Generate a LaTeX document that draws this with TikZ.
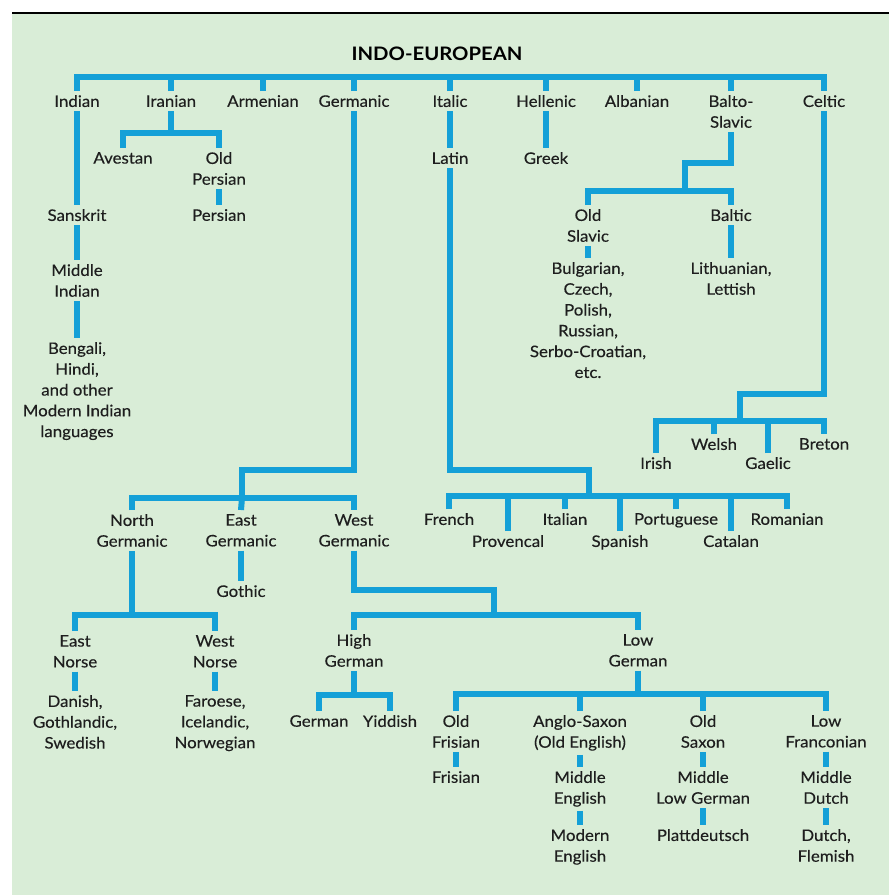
\documentclass[tikz,border=0pt]{standalone}
\usepackage{fontspec}
\setmainfont{Lato}[FakeStretch=1.06, FakeBold=0.25]
\newfontfamily\headfont{Lato}[FakeStretch=1.09]
\usetikzlibrary{calc}
\definecolor{treeblue}{RGB}{20,160,215}
\definecolor{panelgreen}{RGB}{217,237,215}
\definecolor{inkgray}{RGB}{30,30,30}
\newcommand{\langsize}{\fontsize{15.9}{20.8}\selectfont}
\newcommand{\headsize}{\fontsize{18.6}{22}\selectfont}
\tikzset{
  lang/.style = {font=\langsize, text=inkgray, align=center, inner sep=4pt, anchor=north},
  head/.style = {font=\headfont\headsize\bfseries, inner sep=0pt, anchor=north},
  wire/.style = {line width=6pt, draw=treeblue},
}

\begin{document}
\begin{tikzpicture}[x=1pt,y=-1pt]
  \useasboundingbox (0,0) rectangle (894,895);
  \fill[white] (0,0) rectangle (894,895);
  \fill[panelgreen] (12,14) rectangle (889,895);
  \draw[line width=2pt] (12,12.5) -- (889,12.5);

  \node[head] (ie) at (437,46.7) {INDO-EUROPEAN};

  % first branches
  \node[lang] (indian)   at (77,91)  {Indian};
  \node[lang] (iranian)  at (171,91) {Iranian};
  \node[lang] (armenian) at (263,91) {Armenian};
  \node[lang] (germanic) at (354,91) {Germanic};
  \node[lang] (italic)   at (450,91) {Italic};
  \node[lang] (hellenic) at (546,91) {Hellenic};
  \node[lang] (albanian) at (637,91) {Albanian};
  \node[lang] (balto)    at (731,91) {Balto-\\Slavic};
  \node[lang] (celtic)   at (824,91) {Celtic};

  \coordinate (iebar) at (437,77);
  \draw[wire] (indian.north) -- (indian.north |- iebar) -- (celtic.north |- iebar) -- (celtic.north);
  \foreach \n in {iranian,armenian,germanic,italic,hellenic,albanian,balto}
    \draw[wire] (\n.north) -- (\n.north |- iebar);

  % Indian
  \node[lang] (sanskrit)     at (77,205) {Sanskrit};
  \node[lang] (middleindian) at (77,260) {Middle\\Indian};
  \node[lang] (modernindian) at (77,338) {Bengali,\\Hindi,\\and other\\Modern Indian\\languages};
  \draw[wire] (indian.south) -- (sanskrit.north);
  \draw[wire] (sanskrit.south) -- (middleindian.north);
  \draw[wire] (middleindian.south) -- (modernindian.north);

  % Iranian
  \node[lang] (avestan)    at (123,148) {Avestan};
  \node[lang] (oldpersian) at (219,148) {Old\\Persian};
  \node[lang] (persian)    at (219,205) {Persian};
  \coordinate (iranbar) at (171,133);
  \draw[wire] (iranian.south) -- (iranbar);
  \draw[wire] (avestan.north) -- (avestan.north |- iranbar) -- (oldpersian.north |- iranbar) -- (oldpersian.north);
  \draw[wire] (oldpersian.south) -- (persian.north);

  % Italic
  \node[lang] (latin)      at (450,148) {Latin};
  \node[lang] (french)     at (449,509) {French};
  \node[lang] (provencal)  at (508,531) {Provencal};
  \node[lang] (italian)    at (565,509) {Italian};
  \node[lang] (spanish)    at (620,531) {Spanish};
  \node[lang] (portuguese) at (676,509) {Portuguese};
  \node[lang] (catalan)    at (731,531) {Catalan};
  \node[lang] (romanian)   at (787,509) {Romanian};
  \coordinate (itbend) at (589,470);
  \coordinate (rmbar) at (589,496);
  \draw[wire] (italic.south) -- (latin.north);
  \draw[wire] (latin.south) |- (itbend) -- (rmbar);
  \draw[wire] (french.north) -- (french.north |- rmbar) -- (romanian.north |- rmbar) -- (romanian.north);
  \foreach \n in {provencal,italian,spanish,portuguese,catalan}
    \draw[wire] (\n.north) -- (\n.north |- rmbar);

  % Hellenic
  \node[lang] (greek) at (546,148) {Greek};
  \draw[wire] (hellenic.south) -- (greek.north);

  % Balto-Slavic
  \node[lang] (oldslavic)   at (588,205) {Old\\Slavic};
  \node[lang] (baltic)      at (731,205) {Baltic};
  \node[lang] (slaviclangs) at (588,258) {Bulgarian,\\Czech,\\Polish,\\Russian,\\Serbo-Croatian,\\etc.};
  \node[lang] (lithlett)    at (731,258) {Lithuanian,\\Lettish};
  \coordinate (bsbend) at (685,163);
  \coordinate (bsbar) at (685,191);
  \draw[wire] (balto.south) |- (bsbend) -- (bsbar);
  \draw[wire] (oldslavic.north) -- (oldslavic.north |- bsbar) -- (baltic.north |- bsbar) -- (baltic.north);
  \draw[wire] (oldslavic.south) -- (slaviclangs.north);
  \draw[wire] (baltic.south) -- (lithlett.north);

  % Celtic
  \node[lang] (irish)  at (656,453) {Irish};
  \node[lang] (welsh)  at (714,434) {Welsh};
  \node[lang] (gaelic) at (768,453) {Gaelic};
  \node[lang] (breton) at (824,434) {Breton};
  \coordinate (ctbend) at (740,394);
  \coordinate (ctbar) at (740,421);
  \draw[wire] (celtic.south) |- (ctbend) -- (ctbar);
  \draw[wire] (irish.north) -- (irish.north |- ctbar) -- (breton.north |- ctbar) -- (breton.north);
  \foreach \n in {welsh,gaelic}
    \draw[wire] (\n.north) -- (\n.north |- ctbar);

  % Germanic
  \node[lang] (northgerm) at (132,510) {North\\Germanic};
  \node[lang] (eastgerm)  at (241,510) {East\\Germanic};
  \node[lang] (westgerm)  at (354,510) {West\\Germanic};
  \coordinate (gmbend) at (242,470);
  \coordinate (gmbar) at (242,498);
  \draw[wire] (germanic.south) |- (gmbend) -- (gmbar);
  \draw[wire] (northgerm.north) -- (northgerm.north |- gmbar) -- (westgerm.north |- gmbar) -- (westgerm.north);
  \draw[wire] (gmbar) -- (eastgerm.north);

  \node[lang] (gothic) at (241,581) {Gothic};
  \draw[wire] (eastgerm.south) -- (gothic.north);

  \node[lang] (eastnorse) at (75,631)  {East\\Norse};
  \node[lang] (westnorse) at (215,631) {West\\Norse};
  \node[lang] (danish)    at (75,691)  {Danish,\\Gothlandic,\\Swedish};
  \node[lang] (faroese)   at (215,691) {Faroese,\\Icelandic,\\Norwegian};
  \coordinate (ngbar) at (132,615);
  \draw[wire] (northgerm.south) -- (ngbar);
  \draw[wire] (eastnorse.north) -- (eastnorse.north |- ngbar) -- (westnorse.north |- ngbar) -- (westnorse.north);
  \draw[wire] (eastnorse.south) -- (danish.north);
  \draw[wire] (westnorse.south) -- (faroese.north);

  \node[lang] (highgerm) at (354,630) {High\\German};
  \node[lang] (lowgerm)  at (638,630) {Low\\German};
  \coordinate (wgbend) at (494,590);
  \coordinate (wgbar) at (494,615);
  \draw[wire] (westgerm.south) |- (wgbend) -- (wgbar);
  \draw[wire] (highgerm.north) -- (highgerm.north |- wgbar) -- (lowgerm.north |- wgbar) -- (lowgerm.north);

  \node[lang] (german)  at (319,711) {German};
  \node[lang] (yiddish) at (390,711) {Yiddish};
  \coordinate (hgbar) at (354,695);
  \draw[wire] (highgerm.south) -- (hgbar);
  \draw[wire] (german.north) -- (german.north |- hgbar) -- (yiddish.north |- hgbar) -- (yiddish.north);

  \node[lang] (oldfrisian) at (456,711) {Old\\Frisian};
  \node[lang] (anglosaxon) at (580,711) {Anglo-Saxon\\(Old English)};
  \node[lang] (oldsaxon)   at (703,711) {Old\\Saxon};
  \node[lang] (lowfranc)   at (826,711) {Low\\Franconian};
  \coordinate (lgbar) at (638,694);
  \draw[wire] (lowgerm.south) -- (lgbar);
  \draw[wire] (oldfrisian.north) -- (oldfrisian.north |- lgbar) -- (lowfranc.north |- lgbar) -- (lowfranc.north);
  \foreach \n in {anglosaxon,oldsaxon}
    \draw[wire] (\n.north) -- (\n.north |- lgbar);

  \node[lang] (frisian)     at (456,767) {Frisian};
  \node[lang] (middleeng)   at (580,767) {Middle\\English};
  \node[lang] (middlelowg)  at (703,767) {Middle\\Low German};
  \node[lang] (middledutch) at (826,767) {Middle\\Dutch};
  \node[lang] (modeng)      at (580,825) {Modern\\English};
  \node[lang] (platt)       at (703,825) {Plattdeutsch};
  \node[lang] (dutchflem)   at (826,825) {Dutch,\\Flemish};
  \draw[wire] (oldfrisian.south) -- (frisian.north);
  \draw[wire] (anglosaxon.south) -- (middleeng.north);
  \draw[wire] (middleeng.south) -- (modeng.north);
  \draw[wire] (oldsaxon.south) -- (middlelowg.north);
  \draw[wire] (middlelowg.south) -- (platt.north);
  \draw[wire] (lowfranc.south) -- (middledutch.north);
  \draw[wire] (middledutch.south) -- (dutchflem.north);
\end{tikzpicture}
\end{document}
